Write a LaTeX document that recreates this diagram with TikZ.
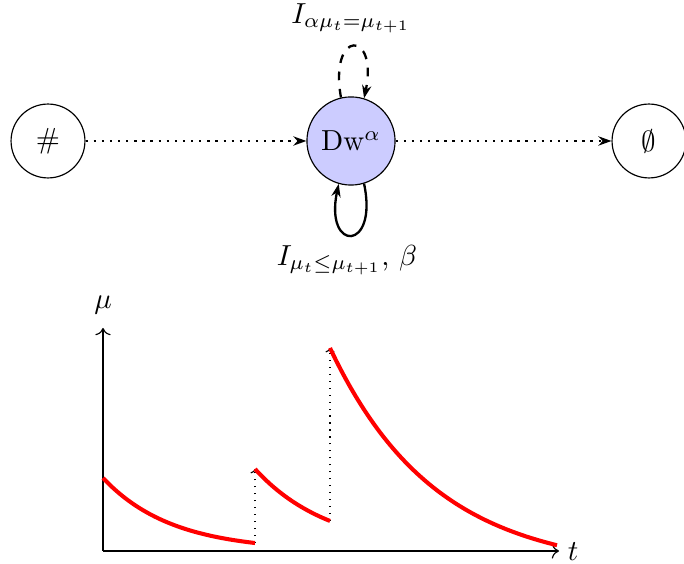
\documentclass[tikz,border=0pt]{standalone}
\usetikzlibrary{arrows.meta}
\begin{document}
\begin{tikzpicture}[x=0.345pt,y=-0.345pt,
  state/.style={circle,draw,thin,inner sep=0pt},
  flow/.style={thick,dotted,-{Stealth[length=4.5pt,width=3.2pt]}},
  loopline/.style={thick,-{Stealth[length=4.5pt,width=3.2pt]}},
  curve/.style={red,line width=1.4pt},
  jump/.style={thin,dotted,-{To[length=1.5pt]}}]
\useasboundingbox (0,0) rectangle (684,564);
% top automaton
\node[state,minimum size=25.5pt] (h) at (48,141) {$\#$};
\node[state,minimum size=30.4pt,fill=blue!20] (dw) at (351,141) {Dw$^\alpha$};
\node[state,minimum size=25.5pt] (e) at (649,141) {$\emptyset$};
\draw[flow] (h) -- (dw);
\draw[flow] (dw) -- (e);
\draw[loopline,dashed] (dw.103) .. controls +(-100:70) and +(-78:70) .. (dw.73);
\draw[loopline] (dw.287) .. controls +(78:70) and +(102:70) .. (dw.254);
\node (lt) at (351,18) {$I_{\alpha\mu_t=\mu_{t+1}}$};
\node (lb) at (347,260) {$I_{\mu_t\leq\mu_{t+1}}$, $\beta$};
% plot
\coordinate (o) at (103,551);
\coordinate (ytop) at (103,328);
\coordinate (xend) at (559,551);
\draw[-{To[length=2.5pt]}] (o) -- (ytop);
\draw[-{To[length=2.5pt]}] (o) -- (xend);
\node (mu) at (103,305) {$\mu$};
\node (t) at (573,552) {$t$};
\coordinate (c1e) at (255,543);
\coordinate (c2s) at (255,469);
\coordinate (c2e) at (330,521);
\coordinate (c3s) at (330,348);
\draw[jump] (c1e) -- (c2s);
\draw[jump] (c2e) -- (c3s);
\draw[curve,domain=0:152,samples=60] plot ({103+\x},{551-73*exp(-0.01455*\x)});
\draw[curve,domain=0:75,samples=40] plot ({255+\x},{551-82*exp(-0.0134*\x)});
\draw[curve,domain=0:227,samples=80] plot ({330+\x},{551+20-223*exp(-0.0095*\x)});
\end{tikzpicture}
\end{document}
